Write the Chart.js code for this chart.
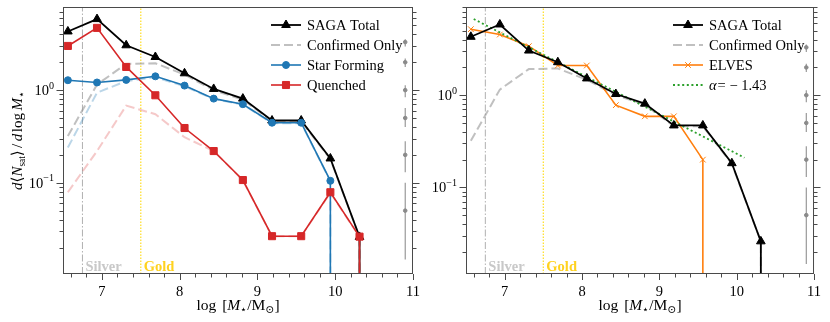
<!DOCTYPE html>
<html>
<head>
<meta charset="utf-8">
<script src="https://cdn.jsdelivr.net/npm/chart.js@4"></script>
<style>
  body { margin: 0; background: #fff; }
  #wrap { position: relative; width: 830px; height: 322px; overflow: hidden; }
  #leftBox { position: absolute; left: 0; top: 0; }
  #rightBox { position: absolute; left: 415px; top: 0; }
</style>
</head>
<body>
<div id="wrap">
  <div id="leftBox"><canvas id="leftChart" width="430" height="322"></canvas></div>
  <div id="rightBox"><canvas id="rightChart" width="415" height="322"></canvas></div>
</div>
<script>
// --- Data ---
// bin centres in log M*, last bin is empty (0) for every series
const massBins = [6.5625, 6.9375, 7.3125, 7.6875, 8.0625, 8.4375, 8.8125, 9.1875, 9.5625, 9.9375, 10.3125, 10.6875];

const sagaTotal      = [4.3, 5.85, 3.05, 2.28, 1.52, 1.03, 0.81, 0.47, 0.47, 0.183, 0.026, 0];
const confirmedOnly  = [0.32, 1.15, 1.92, 1.95, 1.47, 1.0, 0.79, 0.46, 0.46, 0.18, 0.026, 0];
const starForming    = [1.28, 1.21, 1.29, 1.41, 1.12, 0.81, 0.705, 0.445, 0.445, 0.105, 0];
const confirmedSF    = [0.24, 0.94, 1.25, 1.38, 1.1, 0.8, 0.7, 0.44, 0.44, 0.104, 0];
const quenched       = [3.0, 4.7, 1.78, 0.88, 0.39, 0.22, 0.107, 0.0265, 0.0265, 0.079, 0.0262, 0];
const confirmedQ     = [0.079, 0.22, 0.68, 0.55, 0.31, 0.22, 0.106, 0.0265, 0.0265, 0.078, 0.026, 0];
const elves          = [5.2, 4.55, 3.4, 2.1, 2.1, 0.78, 0.59, 0.59, 0.2, 0];

// power-law guide (alpha = -1.43), two end points
const fitX = [6.6, 10.1];
const fitY = [6.7, 0.21];

// typical error bars drawn at the right edge
const errX = 10.9;
const errMid = [3.3, 2.0, 1.0, 0.5, 0.2, 0.05];
const errLo  = [2.95, 1.78, 0.84, 0.40, 0.13, 0.0148];
const errHi  = [3.55, 2.2, 1.13, 0.64, 0.28, 0.10];

// sample limits
const silverX = 6.75;
const goldX = 7.5;

// axes
const xTicks = [7, 8, 9, 10, 11];
const xMinor = [6.6, 6.8, 7.2, 7.4, 7.6, 7.8, 8.2, 8.4, 8.6, 8.8, 9.2, 9.4, 9.6, 9.8, 10.2, 10.4, 10.6, 10.8];
const yTickValues = [0.1, 1];
const yTickExps = ['\u22121', '0'];

const SERIF = "'Liberation Serif', 'DejaVu Serif', serif";
const BELOW_AXIS = 1e-5; // log(0) clipped, like matplotlib: line drops straight down

// empty bins: line drops vertically at the last filled bin
function toPoints(values) {
  const pts = [];
  for (let i = 0; i < values.length; i++) {
    if (values[i] === 0) {
      pts.push({ x: massBins[i - 1], y: BELOW_AXIS });
      break;
    }
    pts.push({ x: massBins[i], y: values[i] });
  }
  return pts;
}

function series(label, values, color, opts) {
  const pts = toPoints(values);
  const r = opts.radius || 0;
  return Object.assign({
    label,
    data: pts,
    borderColor: color,
    backgroundColor: color,
    pointBackgroundColor: color,
    pointBorderColor: color,
    pointBorderWidth: 1,
    borderWidth: 1.6,
    pointRadius: pts.map(p => p.y === BELOW_AXIS ? 0 : r),
    tension: 0,
    clip: { left: 8, right: 8, top: 8, bottom: 0 }
  }, opts.extra || {});
}

function vline(x, yMin, yMax, color, dash, width, order) {
  return {
    label: '_vline', data: [{ x, y: yMin }, { x, y: yMax }],
    borderColor: color, borderWidth: width, borderDash: dash, pointRadius: 0, order
  };
}

function errorBars() {
  const sets = errMid.map((m, i) => ({
    label: '_err', data: [{ x: errX, y: errLo[i] }, { x: errX, y: errHi[i] }],
    borderColor: '#909090', borderWidth: 1.1, pointRadius: 0, order: 18
  }));
  sets.push({
    label: '_errdot', data: errMid.map(m => ({ x: errX, y: m })), showLine: false,
    pointRadius: 1.8, pointBackgroundColor: '#8a8a8a', pointBorderColor: '#8a8a8a', order: 17
  });
  return sets;
}

// --- rich text helpers ---
function fontOf(p, size) {
  return (p.italic ? 'italic ' : '') + (p.bold ? 'bold ' : '') + (size * (p.scale || 1)) + 'px ' + SERIF;
}
function richWidth(ctx, pieces, size) {
  let w = 0;
  pieces.forEach(p => { ctx.font = fontOf(p, size); w += ctx.measureText(p.t).width + (p.gap || 0); });
  return w;
}
function drawRich(ctx, pieces, x, y, size, align) {
  ctx.textAlign = 'left';
  ctx.textBaseline = 'alphabetic';
  let cx = x;
  if (align === 'center') cx = x - richWidth(ctx, pieces, size) / 2;
  if (align === 'right') cx = x - richWidth(ctx, pieces, size);
  pieces.forEach(p => {
    ctx.font = fontOf(p, size);
    ctx.fillText(p.t, cx, y + (p.dy || 0));
    cx += ctx.measureText(p.t).width + (p.gap || 0);
  });
}

function drawMarker(ctx, style, x, y, r, color) {
  ctx.save();
  ctx.fillStyle = color; ctx.strokeStyle = color; ctx.lineWidth = 1; ctx.setLineDash([]);
  ctx.beginPath();
  if (style === 'triangle') {
    ctx.moveTo(x, y - r);
    ctx.lineTo(x + r * 0.866, y + r * 0.5);
    ctx.lineTo(x - r * 0.866, y + r * 0.5);
    ctx.closePath(); ctx.fill(); ctx.stroke();
  } else if (style === 'circle') {
    ctx.arc(x, y, r, 0, Math.PI * 2); ctx.fill(); ctx.stroke();
  } else if (style === 'rect') {
    const s = r * Math.SQRT1_2;
    ctx.rect(x - s, y - s, 2 * s, 2 * s); ctx.fill(); ctx.stroke();
  } else if (style === 'crossRot') {
    const s = r * Math.SQRT1_2;
    ctx.moveTo(x - s, y - s); ctx.lineTo(x + s, y + s);
    ctx.moveTo(x - s, y + s); ctx.lineTo(x + s, y - s); ctx.stroke();
  }
  ctx.restore();
}

// frame, ticks, tick labels, axis titles, sample labels, legend
const decor = {
  id: 'decor',
  afterDatasetsDraw(chart) {
    const o = chart.options.plugins.decor;
    const { ctx, chartArea: a, scales: { x, y } } = chart;
    ctx.save();

    // Silver / Gold labels
    ctx.fillStyle = '#c8c8c8';
    drawRich(ctx, [{ t: 'Silver', bold: true }], x.getPixelForValue(silverX) + 3, a.bottom - 3, 14.5, 'left');
    ctx.fillStyle = '#ffd21f';
    drawRich(ctx, [{ t: 'Gold', bold: true }], x.getPixelForValue(goldX) + 3, a.bottom - 3, 14.5, 'left');

    // frame
    ctx.strokeStyle = '#4a4a4a';
    ctx.lineWidth = 1;
    ctx.setLineDash([]);
    ctx.strokeRect(a.left + 0.5, a.top + 0.5, a.right - a.left - 1, a.bottom - a.top - 1);

    // ticks
    ctx.beginPath();
    const xt = (v, len) => { const px = Math.round(x.getPixelForValue(v)) + 0.5; ctx.moveTo(px, a.bottom); ctx.lineTo(px, a.bottom + len); };
    xTicks.forEach(v => xt(v, 6));
    xMinor.forEach(v => xt(v, 3.5));
    const yt = (v, len) => {
      const py = Math.round(y.getPixelForValue(v)) + 0.5;
      ctx.moveTo(a.left, py); ctx.lineTo(a.left - len, py);
      ctx.moveTo(a.right, py); ctx.lineTo(a.right + len, py);
    };
    for (let d = -2; d <= 0; d++) {
      for (let m = 1; m <= 9; m++) {
        const v = m * Math.pow(10, d);
        if (v < y.min || v > y.max) continue;
        yt(v, m === 1 ? 6.5 : 3.5);
      }
    }
    ctx.stroke();

    // y tick labels 10^n
    ctx.fillStyle = '#000';
    yTickValues.forEach((v, i) => {
      const py = y.getPixelForValue(v);
      const pieces = [{ t: '10' }, { t: yTickExps[i], scale: 0.7, dy: -6.5 }];
      drawRich(ctx, pieces, a.left - 9, py + 5, 14.5, 'right');
    });

    // x axis title
    const cx = (a.left + a.right) / 2;
    drawRich(ctx, [
      { t: 'log ', gap: 2 }, { t: '[' }, { t: 'M', italic: true },
      { t: '\u22c6', scale: 0.7, dy: 3 }, { t: '/' }, { t: 'M' },
      { t: '\u2299', scale: 0.7, dy: 3 }, { t: ']' }
    ], cx, 310, 15.5, 'center');

    // y axis title
    if (o.yTitle) {
      ctx.save();
      ctx.translate(17, (a.top + a.bottom) / 2);
      ctx.rotate(-Math.PI / 2);
      drawRich(ctx, [
        { t: 'd', italic: true }, { t: '\u27e8' }, { t: 'N', italic: true },
        { t: 'sat', scale: 0.62, dy: 3 }, { t: '\u27e9', gap: 2.5 }, { t: '/', gap: 2.5 },
        { t: 'd', italic: true, gap: 1.5 }, { t: 'log', gap: 2.5 }, { t: 'M', italic: true },
        { t: '\u22c6', scale: 0.7, dy: 3 }
      ], 0, 5, 15, 'center');
      ctx.restore();
    }

    // legend
    o.legend.forEach((item, i) => {
      const ds = chart.data.datasets[item.ds];
      const yy = o.legendY + i * o.legendDy;
      ctx.save();
      ctx.strokeStyle = ds.borderColor;
      ctx.lineWidth = ds.borderWidth;
      ctx.setLineDash(ds.borderDash || []);
      ctx.beginPath();
      ctx.moveTo(o.legendX, yy);
      ctx.lineTo(o.legendX + 30, yy);
      ctx.stroke();
      ctx.restore();
      if (item.marker) drawMarker(ctx, ds.pointStyle, o.legendX + 15, yy, item.r, ds.borderColor);
      ctx.fillStyle = '#000';
      drawRich(ctx, item.text, o.legendX + 36, yy + 5, 14.5, 'left');
    });

    ctx.restore();
  }
};

function makeChart(id, datasets, yMin, yMax, axisWidth, padRight, decorOpts) {
  return new Chart(document.getElementById(id), {
    type: 'line',
    data: { datasets },
    options: {
      responsive: false,
      animation: false,
      devicePixelRatio: 1,
      layout: { padding: { left: 0, right: padRight, top: 7, bottom: 0 } },
      plugins: { legend: { display: false }, tooltip: { enabled: false }, decor: decorOpts },
      scales: {
        x: {
          type: 'linear', min: 6.5, max: 11,
          grid: { display: false, drawTicks: false },
          border: { display: false },
          afterBuildTicks: s => { s.ticks = xTicks.map(v => ({ value: v })); },
          afterFit: s => { s.height = 48; },
          ticks: {
            color: '#000', padding: 9, maxRotation: 0, autoSkip: false,
            font: { family: SERIF, size: 14.5 },
            callback: v => String(v)
          }
        },
        y: {
          type: 'logarithmic', min: yMin, max: yMax,
          grid: { display: false, drawTicks: false },
          border: { display: false },
          ticks: { display: false },
          afterFit: s => { s.width = axisWidth; }
        }
      }
    },
    plugins: [decor]
  });
}

// --- Left panel: SAGA total / star forming / quenched ---
const leftYMin = 0.01035, leftYMax = 7.9;
const leftSets = [
  series('SAGA Total', sagaTotal, '#000000', { radius: 5, extra: { pointStyle: 'triangle', borderWidth: 1.8, order: 3 } }),
  series('Confirmed Only', confirmedOnly, 'rgba(150,150,150,0.6)', { extra: { borderDash: [9, 4], borderWidth: 2, order: 10 } }),
  series('Star Forming', starForming, '#1f77b4', { radius: 3.5, extra: { pointStyle: 'circle', order: 2 } }),
  series('Quenched', quenched, '#d62728', { radius: 5, extra: { pointStyle: 'rect', order: 1 } }),
  series('_sfconf', confirmedSF, 'rgba(31,119,180,0.3)', { extra: { borderDash: [9, 4], borderWidth: 2, order: 11 } }),
  series('_qconf', confirmedQ, 'rgba(214,39,40,0.25)', { extra: { borderDash: [9, 4], borderWidth: 2, order: 12 } }),
  vline(silverX, leftYMin, leftYMax, '#b0b0b0', [7, 2, 1.5, 2], 1, 20),
  vline(goldX, leftYMin, leftYMax, '#ffe033', [1.5, 1.5], 1.3, 19)
].concat(errorBars());

makeChart('leftChart', leftSets, leftYMin, leftYMax, 63, 17, {
  yTitle: true, legendX: 271, legendY: 25, legendDy: 20,
  legend: [
    { ds: 0, marker: true, r: 5, text: [{ t: 'SAGA Total' }] },
    { ds: 1, marker: false, text: [{ t: 'Confirmed Only' }] },
    { ds: 2, marker: true, r: 3.5, text: [{ t: 'Star Forming' }] },
    { ds: 3, marker: true, r: 5, text: [{ t: 'Quenched' }] }
  ]
});

// --- Right panel: SAGA total vs ELVES ---
const rightYMin = 0.0115, rightYMax = 9.05;
const rightSets = [
  series('SAGA Total', sagaTotal, '#000000', { radius: 5, extra: { pointStyle: 'triangle', borderWidth: 1.8, order: 1 } }),
  series('Confirmed Only', confirmedOnly, 'rgba(150,150,150,0.6)', { extra: { borderDash: [9, 4], borderWidth: 2, order: 10 } }),
  series('ELVES', elves, '#ff7f0e', { radius: 4, extra: { pointStyle: 'crossRot', order: 3 } }),
  {
    label: 'alpha', data: fitX.map((v, i) => ({ x: v, y: fitY[i] })),
    borderColor: '#2ca02c', borderWidth: 1.8, borderDash: [2, 2.6], pointRadius: 0, order: 2
  },
  vline(silverX, rightYMin, rightYMax, '#b0b0b0', [7, 2, 1.5, 2], 1, 20),
  vline(goldX, rightYMin, rightYMax, '#ffe033', [1.5, 1.5], 1.3, 19)
].concat(errorBars());

makeChart('rightChart', rightSets, rightYMin, rightYMax, 51, 14, {
  yTitle: false, legendX: 258, legendY: 25, legendDy: 20,
  legend: [
    { ds: 0, marker: true, r: 5, text: [{ t: 'SAGA Total' }] },
    { ds: 1, marker: false, text: [{ t: 'Confirmed Only' }] },
    { ds: 2, marker: true, r: 4, text: [{ t: 'ELVES' }] },
    { ds: 3, marker: false, text: [{ t: '\u03b1', italic: true, gap: 1 }, { t: '= \u2212 1.43' }] }
  ]
});
</script>
</body>
</html>
